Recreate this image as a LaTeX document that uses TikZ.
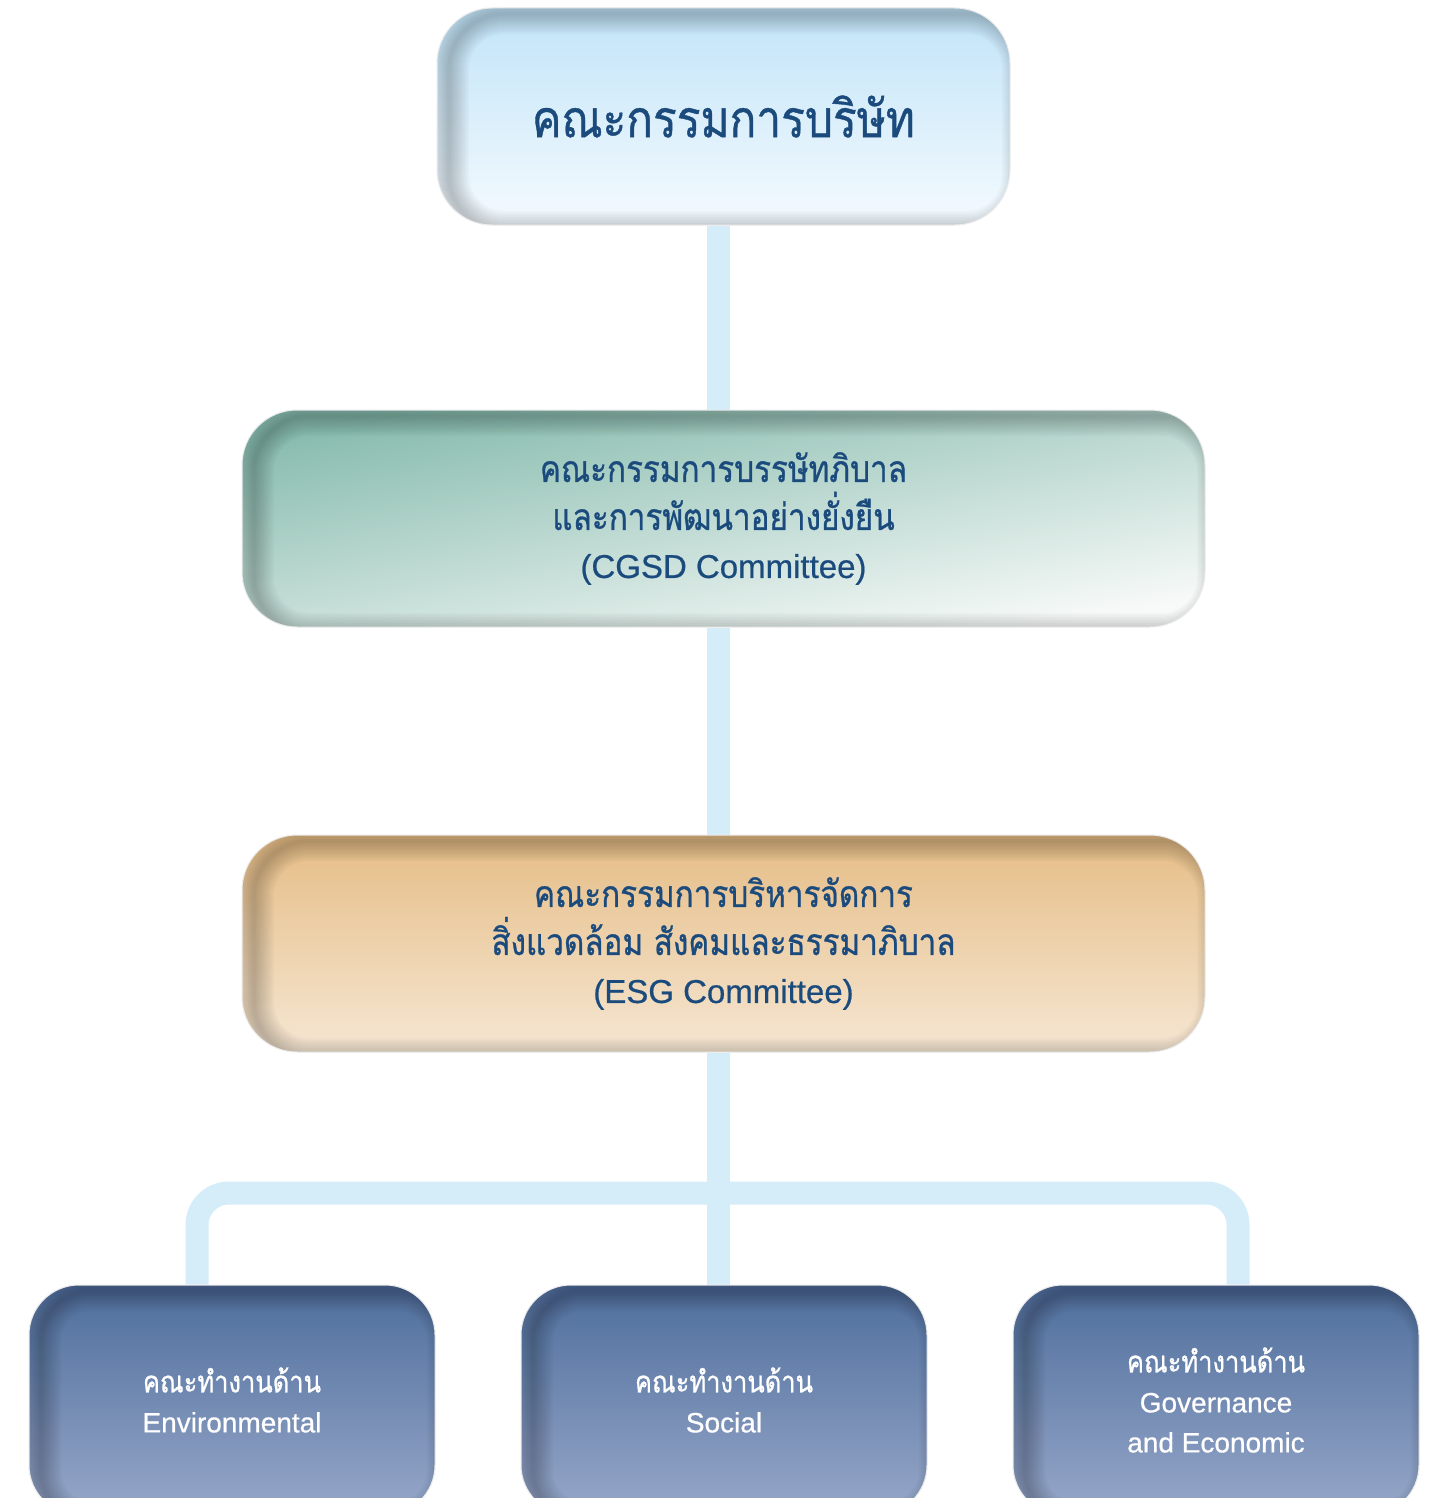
\documentclass[tikz,border=0pt]{standalone}
\usepackage{fontspec}
\setmainfont{Liberation Sans}[FakeBold=0.6]
\newfontfamily\thai[Script=Thai, FakeStretch=0.85, FakeBold=0.8]{Loma}
\usetikzlibrary{backgrounds}

\definecolor{inkblue}{HTML}{1B4B7D}
\definecolor{linkblue}{HTML}{D5ECF9}
\definecolor{boardtop}{HTML}{C1E4F8}
\definecolor{boardbot}{HTML}{F4FAFE}
\definecolor{cgsdtop}{HTML}{86BBAD}
\definecolor{cgsdbot}{HTML}{F8FAF9}
\definecolor{esgtop}{HTML}{E6BD86}
\definecolor{esgbot}{HTML}{F5E6D2}
\definecolor{teamtop}{HTML}{4E6E9C}
\definecolor{teambot}{HTML}{97A7C9}

\begin{document}
\begin{tikzpicture}
        [
            x=1pt, y=-1pt,
            box/.style = {rounded corners=#1, align=center, inner sep=0pt, draw=black!8, line width=1pt,
                path picture={
                    \foreach \w in {4,8,...,40}
                        \draw[black, opacity=0.025, line width=\w pt, rounded corners=#1]
                            ([shift={(12pt,-6pt)}]path picture bounding box.south west) rectangle
                            ([shift={(12pt,-6pt)}]path picture bounding box.north east);
                }},
            board/.style = {box=55pt, minimum width=573pt, minimum height=217pt, top color=boardtop, bottom color=boardbot,
                text=inkblue, font=\thai\fontsize{52}{60}\selectfont},
            committee/.style = {box=55pt, minimum width=963pt, minimum height=217pt, text=inkblue,
                font=\fontsize{33}{48}\selectfont},
            team/.style = {box=50pt, minimum width=406pt, minimum height=230pt, top color=teamtop, bottom color=teambot,
                text=white, font=\fontsize{28}{40}\selectfont},
            link/.style = {line width=23pt, linkblue},
        ]
        \useasboundingbox (0,0) rectangle (1450,1498);
        \node [board] (bod) at (723.5,116.5) {คณะกรรมการบริษัท};
        \node [committee, top color=cgsdtop, bottom color=cgsdbot, shading angle=10] (cgsd) at (723.5,518.5)
            {{\thai\fontsize{37}{48}\selectfont คณะกรรมการบรรษัทภิบาล}\\
             {\thai\fontsize{37}{48}\selectfont และการพัฒนาอย่างยั่งยืน}\\(CGSD Committee)};
        \node [committee, top color=esgtop, bottom color=esgbot] (esg) at (723.5,943.5)
            {{\thai\fontsize{37}{48}\selectfont คณะกรรมการบริหารจัดการ}\\
             {\thai\fontsize{37}{48}\selectfont สิ่งแวดล้อม สังคมและธรรมาภิบาล}\\(ESG Committee)};
        \node [team] (env) at (232,1400) {{\thai\fontsize{30}{40}\selectfont คณะทำงานด้าน}\\Environmental};
        \node [team] (soc) at (724,1400) {{\thai\fontsize{30}{40}\selectfont คณะทำงานด้าน}\\Social};
        \node [team] (gov) at (1216,1400) {{\thai\fontsize{30}{40}\selectfont คณะทำงานด้าน}\\Governance\\and Economic};
        \coordinate (fork) at (718.5,1193);
        \begin{scope}[on background layer]
            \fill[white] (0,0) rectangle (1450,1498);
            \draw[link] ([xshift=-5pt]bod.south) -- ([xshift=-5pt]cgsd.north);
            \draw[link] ([xshift=-5pt]cgsd.south) -- ([xshift=-5pt]esg.north);
            \draw[link] ([xshift=-5pt]esg.south) -- ([xshift=-5.5pt]soc.north);
            \draw[link, rounded corners=32pt] ([xshift=-35pt]env.north) |- (fork) -| ([xshift=22pt]gov.north);
        \end{scope}
    \end{tikzpicture}
\end{document}
